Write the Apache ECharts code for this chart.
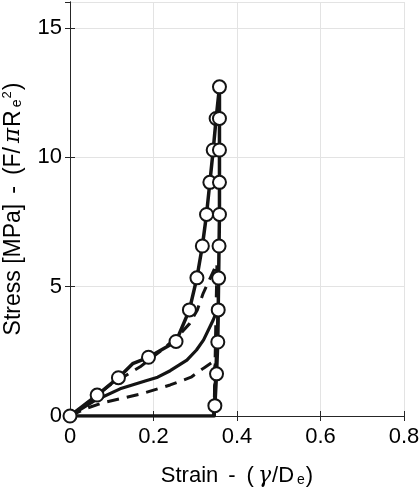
<!DOCTYPE html>
<html lang="en">
<head>
<meta charset="UTF-8">
<title>Stress - Strain</title>
<script src="https://cdn.jsdelivr.net/npm/echarts@6/dist/echarts.min.js"></script>
<style>
  html, body { margin: 0; padding: 0; background: #fff; }
  #chart { width: 419px; height: 488px; }
</style>
</head>
<body>
<div id="chart"></div>
<script>
// measured curve, loading branch (one extra point without marker for the bump)
var loadStrain = [0, 0.065, 0.116, 0.150, 0.188, 0.254, 0.286, 0.304, 0.317, 0.327, 0.335, 0.343, 0.350, 0.358];
var loadStress = [0, 0.81, 1.48, 2.02, 2.27, 2.88, 4.10, 5.34, 6.57, 7.79, 9.03, 10.28, 11.50, 12.72];
var loadNoMarker = [3];
// unloading branch
var unloadStrain = [0.358, 0.358, 0.358, 0.358, 0.358, 0.357, 0.356, 0.355, 0.354, 0.351, 0.347, 0.345, 0];
var unloadStress = [12.72, 11.50, 10.28, 9.03, 7.79, 6.57, 5.33, 4.10, 2.86, 1.63, 0.40, 0, 0];
var unloadMarkers = [1, 2, 3, 4, 5, 6, 7, 8, 9, 10];

// model curves
var upperStrain = [0, 0.05, 0.096, 0.168, 0.224, 0.260, 0.287, 0.305, 0.319, 0.335, 0.352, 0.345];
var upperStress = [0, 0.60, 1.20, 1.90, 2.60, 3.10, 3.58, 4.10, 4.74, 5.30, 5.90, 0];
var midStrain = [0, 0.06, 0.12, 0.18, 0.21, 0.24, 0.28, 0.303, 0.32, 0.343, 0.355, 0.345];
var midStress = [0, 0.60, 1.05, 1.35, 1.50, 1.75, 2.16, 2.55, 2.94, 3.71, 4.20, 0];
var lowerStrain = [0, 0.04, 0.08, 0.17, 0.24, 0.29, 0.32, 0.348, 0.345];
var lowerStress = [0, 0.30, 0.52, 0.85, 1.20, 1.50, 1.85, 2.15, 0];

var xTicks = [0, 0.2, 0.4, 0.6, 0.8];
var yTicks = [0, 5, 10, 15];

function pairs(xs, ys) {
  return xs.map(function (x, i) { return [x, ys[i]]; });
}

var markerPts = [];
loadStrain.forEach(function (x, i) {
  if (loadNoMarker.indexOf(i) < 0) markerPts.push([x, loadStress[i]]);
});
unloadMarkers.forEach(function (i) {
  markerPts.push([unloadStrain[i], unloadStress[i]]);
});

var ink = '#141414';
var font = '"Liberation Sans", Arial, sans-serif';

var chart = echarts.init(document.getElementById('chart'));

function lineSeries(data, width, dashed, z) {
  return {
    type: 'line',
    data: data,
    symbol: 'none',
    z: z,
    lineStyle: { color: ink, width: width, type: dashed ? [12, 8] : 'solid', cap: 'butt', join: 'round' },
    animation: false
  };
}

function nameRich(size) {
  return {
    t: { fontFamily: font, fontSize: size, color: '#000' },
    h: { fontFamily: font, fontSize: size, color: '#000', padding: [0, 11, 0, 10] },
    g: { fontFamily: '"DejaVu Serif", serif', fontStyle: 'italic', fontSize: size, color: '#000', padding: [0, 1, 0, 4] },
    s: { fontFamily: font, fontSize: 14, color: '#000', padding: [8, 1, 0, 3] },
    p: { fontFamily: font, fontSize: 13, color: '#000', padding: [0, 1, 12, 0] }
  };
}

var option = {
  animation: false,
  grid: { left: 70, right: 15, top: 2, bottom: 72, outerBoundsMode: 'none', containLabel: false },
  xAxis: [{
    type: 'value', min: 0, max: 0.8, interval: 0.2,
    name: '{t|Strain}{h|-}{t|(}{g|γ}{t|/D}{s|e}{t|)}',
    nameLocation: 'middle', nameGap: 49,
    nameTextStyle: { rich: nameRich(22) },
    axisLine: { onZero: false, lineStyle: { color: '#262626', width: 1 } },
    axisTick: { inside: true, length: 5, lineStyle: { color: '#262626' } },
    axisLabel: { fontFamily: font, fontSize: 22, color: '#000', margin: 10,
      formatter: function (v) { return String(+v.toFixed(1)); } },
    splitLine: { show: true, lineStyle: { color: '#e3e3e3', width: 1 } }
  }, {
    type: 'value', min: 0, max: 0.8, interval: 0.2, position: 'top',
    axisLine: { show: true, lineStyle: { color: '#262626', width: 1 } },
    axisTick: { show: true, inside: true, length: 5, lineStyle: { color: '#262626' } },
    axisLabel: { show: false }, splitLine: { show: false }
  }],
  yAxis: [{
    type: 'value', min: 0, max: 16, interval: 5,
    name: '{t|Stress [MPa]}{h|-}{t|(F/}{g|π}{t|R}{s|e}{p|2}{t|)}',
    nameLocation: 'middle', nameGap: 44, nameRotate: 90,
    nameTextStyle: { rich: nameRich(23) },
    axisLine: { show: true, onZero: false, lineStyle: { color: '#262626', width: 1 } },
    axisTick: { show: true, inside: true, length: 5, lineStyle: { color: '#262626' } },
    axisLabel: { fontFamily: font, fontSize: 22, color: '#000', margin: 8, showMaxLabel: false },
    splitLine: { show: true, lineStyle: { color: '#e3e3e3', width: 1 } }
  }, {
    type: 'value', min: 0, max: 16, interval: 5, position: 'right',
    axisLine: { show: true, lineStyle: { color: '#262626', width: 1 } },
    axisTick: { show: true, inside: true, length: 5, lineStyle: { color: '#262626' } },
    axisLabel: { show: false }, splitLine: { show: false }
  }],
  series: [
    lineSeries(pairs(lowerStrain, lowerStress), 3, true, 2),
    lineSeries(pairs(midStrain, midStress), 3.2, false, 2),
    lineSeries(pairs(upperStrain, upperStress), 3, true, 2),
    lineSeries(pairs(loadStrain, loadStress), 3.5, false, 3),
    lineSeries(pairs(unloadStrain, unloadStress), 3.5, false, 3),
    {
      type: 'scatter',
      data: markerPts,
      symbol: 'circle',
      symbolSize: 13,
      z: 4,
      itemStyle: { color: '#fff', borderColor: ink, borderWidth: 2, opacity: 1 },
      animation: false
    }
  ]
};

chart.setOption(option);
</script>
</body>
</html>
